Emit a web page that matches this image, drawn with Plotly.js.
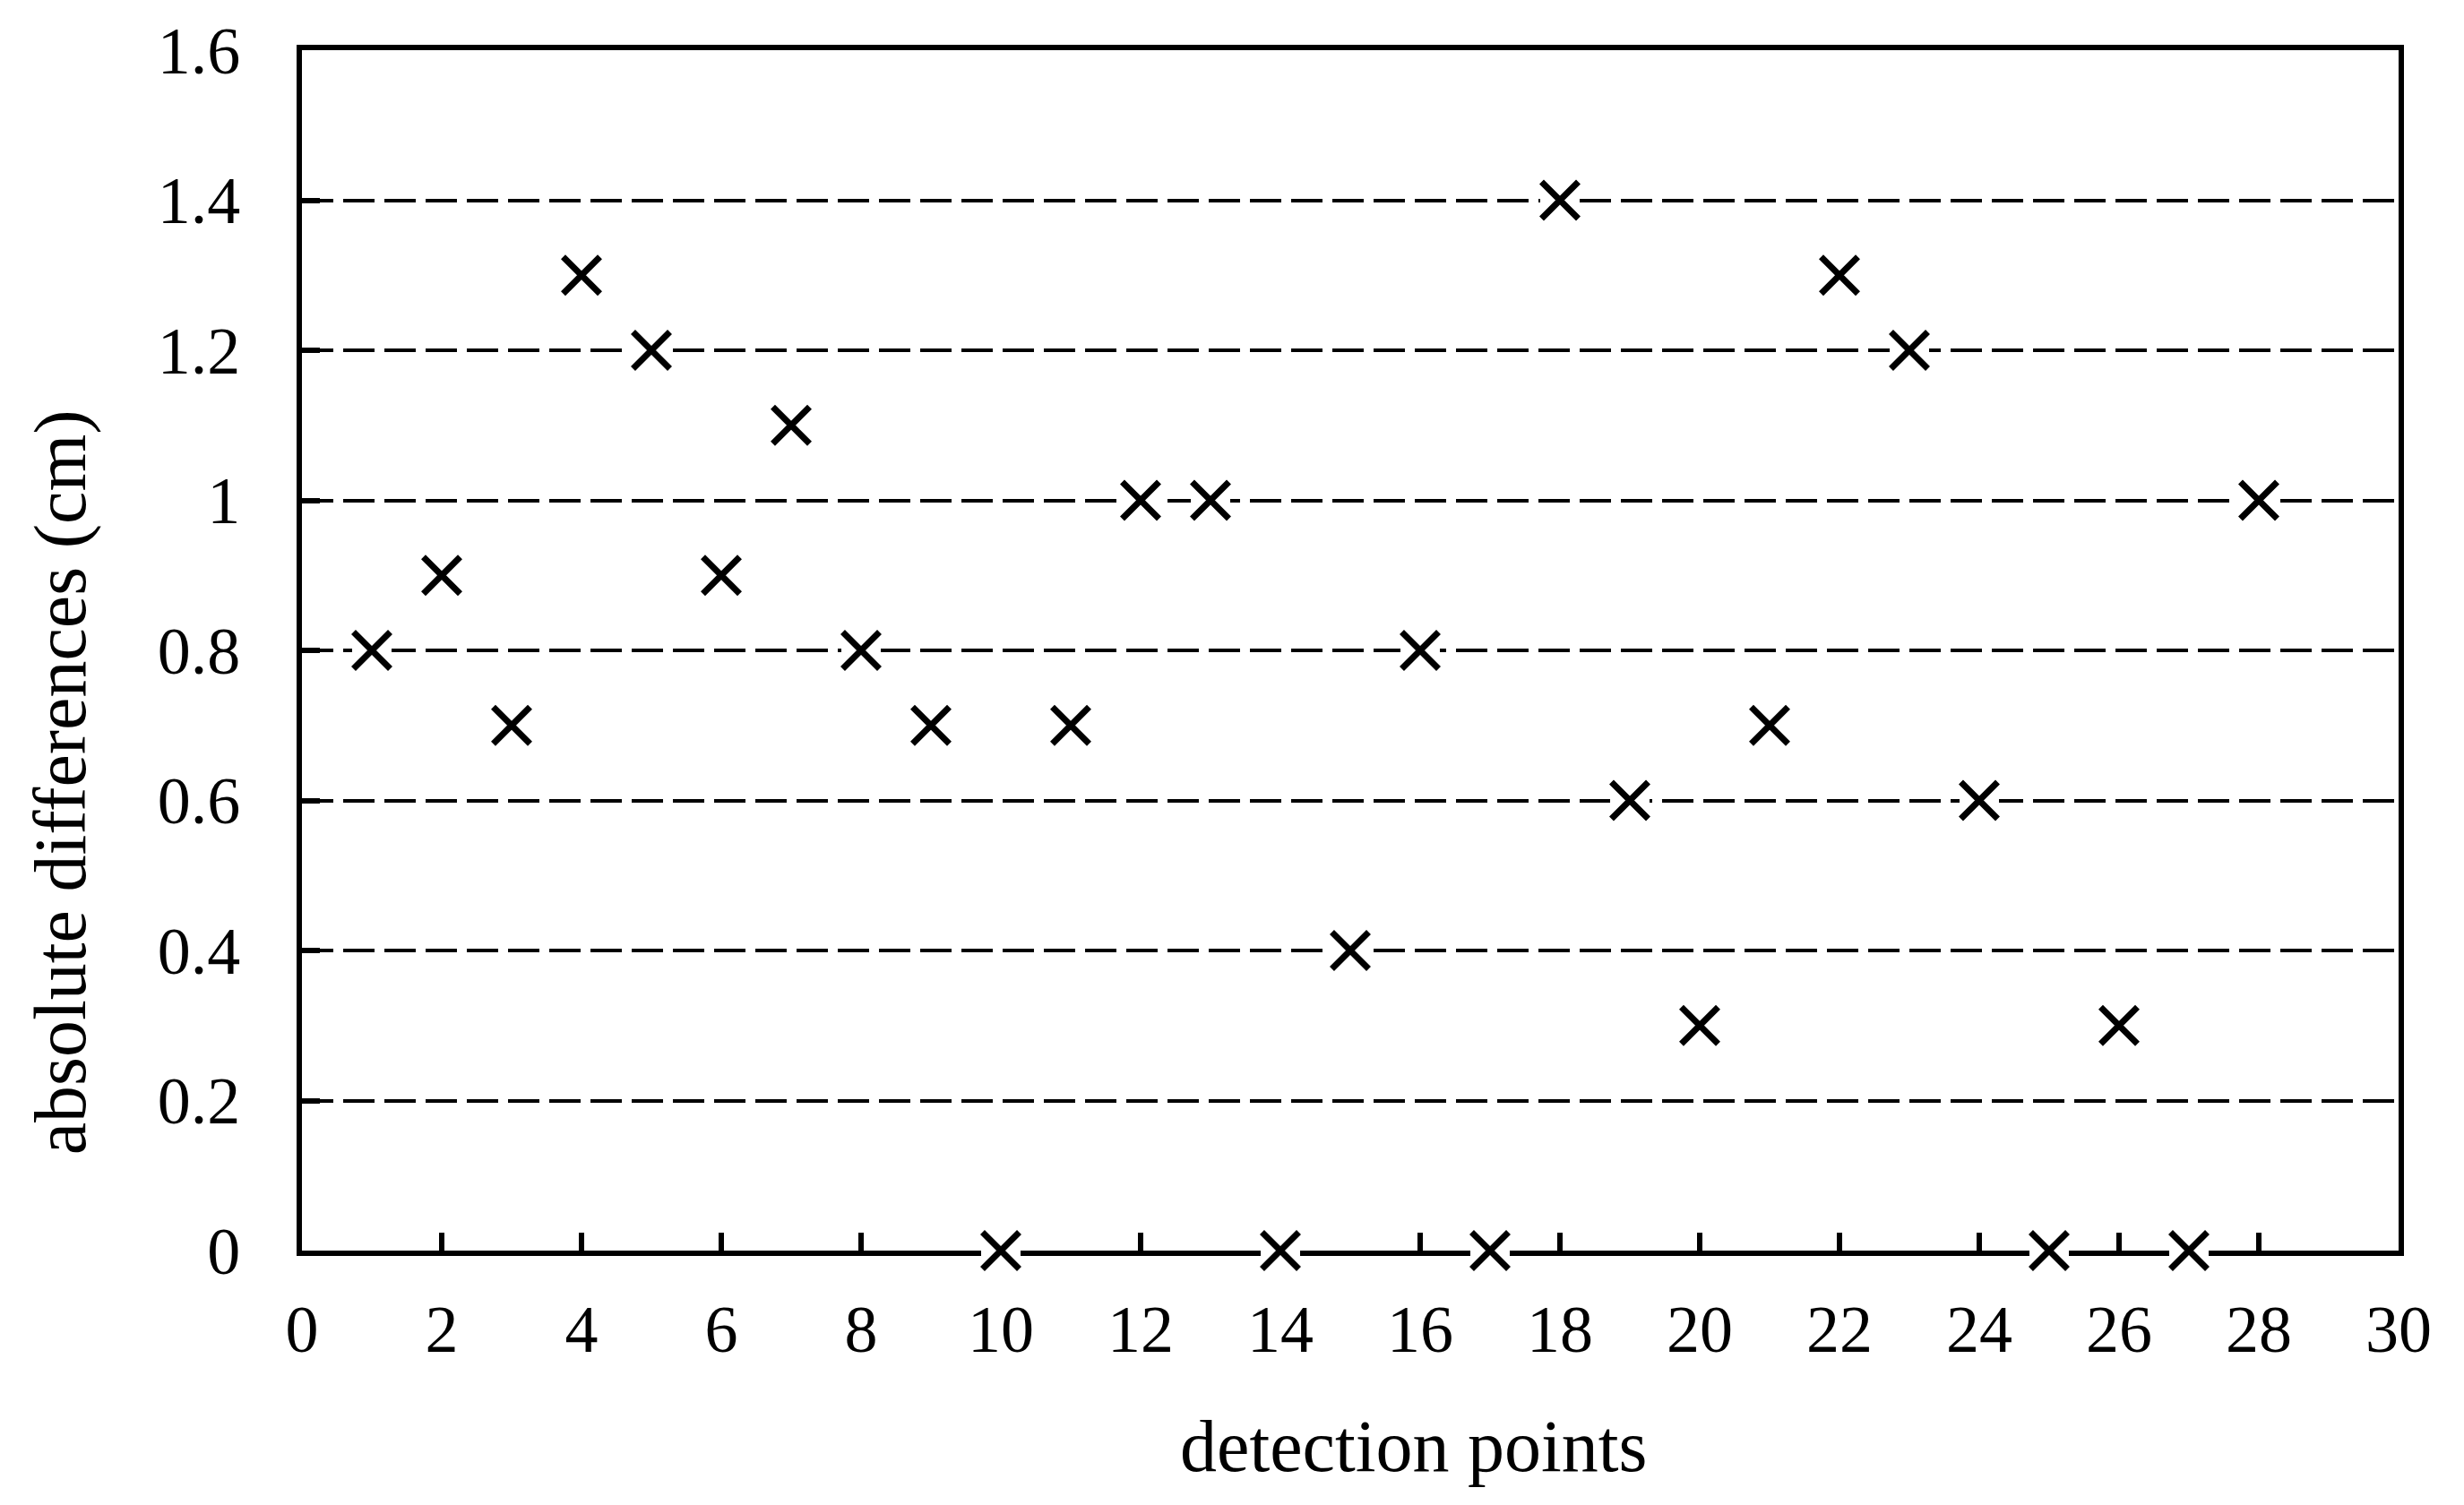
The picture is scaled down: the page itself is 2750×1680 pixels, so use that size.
<!DOCTYPE html>
<html>
<head>
<meta charset="utf-8">
<script src="https://cdn.plot.ly/plotly-3.0.1.min.js"></script>
<style>html,body{margin:0;padding:0;background:#fff;}#chart{width:2750px;height:1680px;}</style>
</head>
<body>
<div id="chart"></div>
<script>
const detectionPoints = [1,2,3,4,5,6,7,8,9,10,11,12,13,14,15,16,17,18,19,20,21,22,23,24,25,26,27,28];
const absDifferences = [0.8,0.9,0.7,1.3,1.2,0.9,1.1,0.8,0.7,0,0.7,1.0,1.0,0,0.4,0.8,0,1.4,0.6,0.3,0.7,1.3,1.2,0.6,0,0.3,0,1.0];
const xTitle = 'detection points';
const yTitle = 'absolute differences (cm)';

const FONT = 'Liberation Serif, Times New Roman, serif';

const traces = [
  {
    x: detectionPoints, y: absDifferences, type: 'scatter', mode: 'markers',
    marker: {symbol: 'square', size: 44, color: '#ffffff', line: {width: 0}},
    cliponaxis: false, hoverinfo: 'skip', showlegend: false
  },
  {
    x: detectionPoints, y: absDifferences, type: 'scatter', mode: 'markers',
    marker: {symbol: 'x-thin-open', size: 41, color: '#000000', line: {width: 7, color: '#000000'}},
    cliponaxis: false, showlegend: false
  }
];

const layout = {
  width: 2750, height: 1680,
  paper_bgcolor: '#ffffff', plot_bgcolor: '#ffffff',
  margin: {l: 337, r: 73, t: 56, b: 284, pad: 0},
  font: {family: FONT, size: 74, color: '#000000'},
  showlegend: false,
  xaxis: {
    range: [0, 30], dtick: 2, tick0: 0,
    showgrid: false, zeroline: false,
    showline: true, linecolor: '#000', linewidth: 6, mirror: true,
    ticks: 'inside', ticklen: 20, tickwidth: 6, tickcolor: '#000',
    tickfont: {family: FONT, size: 74, color: '#000'},
    ticklabelstandoff: 18,
    layer: 'below traces',
    fixedrange: true
  },
  yaxis: {
    range: [0, 1.6], dtick: 0.2, tick0: 0,
    showgrid: true, gridcolor: '#000', gridwidth: 4, griddash: '35px,11px',
    zeroline: false,
    showline: true, linecolor: '#000', linewidth: 6, mirror: true,
    ticks: 'inside', ticklen: 20, tickwidth: 6, tickcolor: '#000',
    tickfont: {family: FONT, size: 74, color: '#000'},
    ticklabelstandoff: 48,
    fixedrange: true
  },
  annotations: [
    {text: xTitle, xref: 'paper', yref: 'paper', x: 0.5303, y: -0.1634,
     xanchor: 'center', yanchor: 'middle', showarrow: false,
     font: {family: FONT, size: 82, color: '#000'}},
    {text: yTitle, xref: 'paper', yref: 'paper', x: -0.115, y: 0.39,
     xanchor: 'center', yanchor: 'middle', textangle: -90, showarrow: false,
     font: {family: FONT, size: 82, color: '#000'}}
  ]
};

Plotly.newPlot('chart', traces, layout, {staticPlot: true, displayModeBar: false});
</script>
</body>
</html>
